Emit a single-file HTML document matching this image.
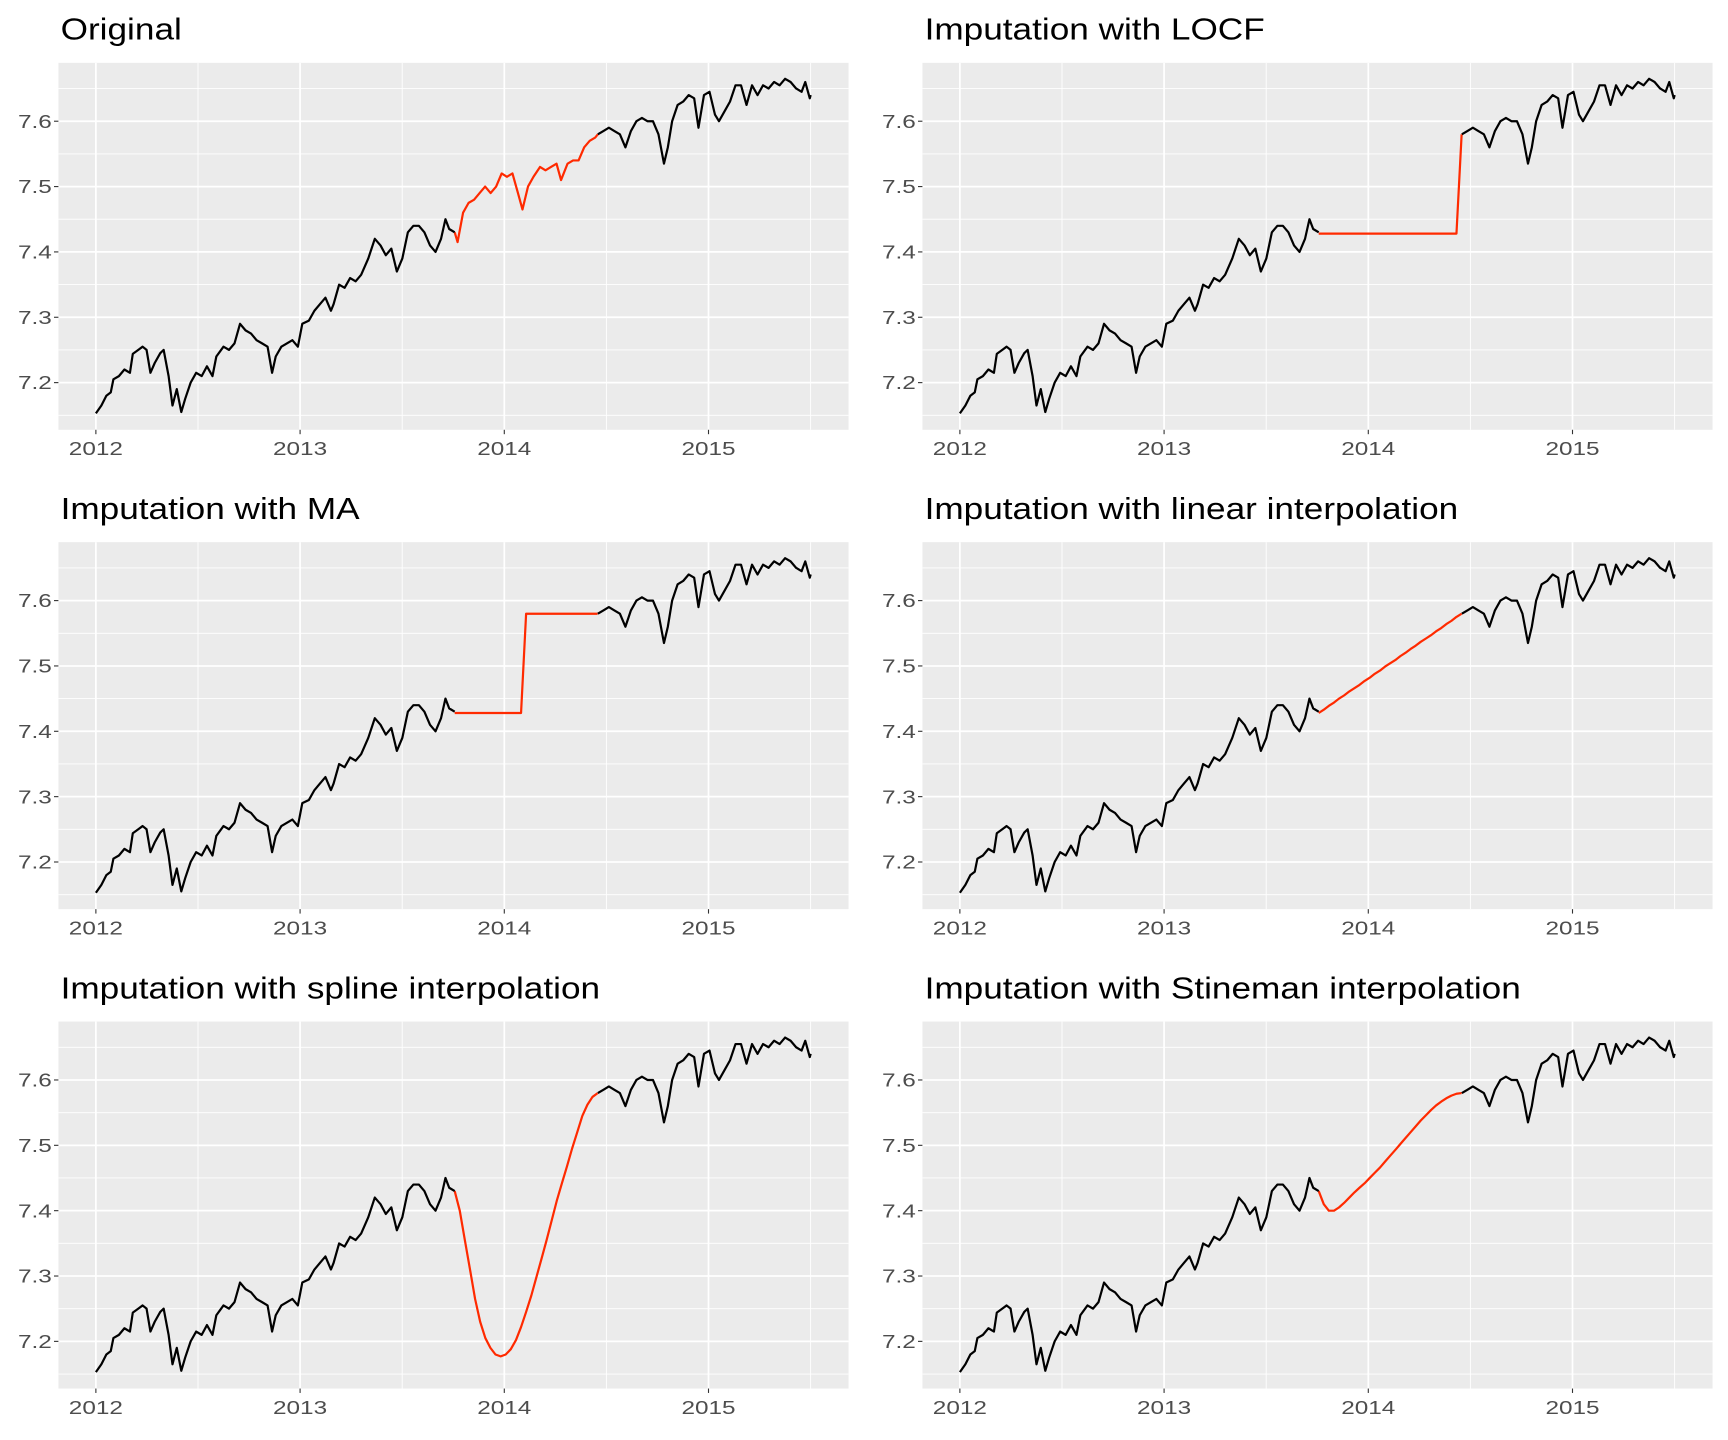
<!DOCTYPE html>
<html><head><meta charset="utf-8">
<style>
html,body{margin:0;padding:0;background:#fff;}
svg{display:block;}
text{font-family:"Liberation Sans",Arial,sans-serif;}
</style></head>
<body>
<svg id="chart" width="1728" height="1440" viewBox="0 0 1568 1306.7" preserveAspectRatio="none" xmlns="http://www.w3.org/2000/svg"></svg>
<script>
// ---- data (t = years since 2012) ----
const obsBeforeT = [0,.027,.051,.073,.086,.113,.140,.167,.181,.208,.229,.248,.267,.288,.315,.332,.356,.375,.396,.418,.437,.464,.491,.518,.544,.571,.590,.625,.652,.679,.706,.733,.760,.787,.814,.841,.863,.881,.908,.935,.962,.989,1.011,1.043,1.070,1.097,1.124,1.151,1.164,1.191,1.218,1.245,1.272,1.299,1.334,1.366,1.394,1.420,1.447,1.474,1.501,1.528,1.555,1.582,1.609,1.636,1.663,1.690,1.712,1.730,1.757];
const obsBeforeV = [7.153,7.165,7.18,7.185,7.205,7.21,7.22,7.215,7.244,7.25,7.255,7.25,7.215,7.23,7.245,7.25,7.21,7.165,7.19,7.155,7.175,7.2,7.215,7.21,7.225,7.21,7.24,7.255,7.25,7.26,7.29,7.28,7.275,7.265,7.26,7.255,7.215,7.24,7.255,7.26,7.265,7.255,7.29,7.295,7.31,7.32,7.33,7.31,7.32,7.35,7.345,7.36,7.355,7.365,7.39,7.42,7.41,7.395,7.405,7.37,7.39,7.43,7.44,7.44,7.43,7.41,7.4,7.42,7.45,7.435,7.43];
const missingT = [1.757,1.771,1.798,1.825,1.852,1.879,1.906,1.933,1.960,1.987,2.013,2.040,2.067,2.089,2.116,2.143,2.175,2.202,2.229,2.256,2.278,2.310,2.337,2.364,2.391,2.418,2.445,2.458];
const missingV = [7.43,7.415,7.46,7.475,7.48,7.49,7.5,7.49,7.5,7.52,7.515,7.52,7.49,7.465,7.5,7.515,7.53,7.525,7.53,7.535,7.51,7.535,7.54,7.54,7.56,7.57,7.575,7.58];
const obsAfterT = [2.458,2.485,2.512,2.539,2.566,2.593,2.620,2.647,2.674,2.701,2.728,2.755,2.782,2.801,2.822,2.849,2.876,2.903,2.930,2.951,2.978,3.005,3.032,3.051,3.078,3.105,3.132,3.159,3.186,3.213,3.240,3.267,3.294,3.321,3.348,3.375,3.402,3.429,3.456,3.474,3.496,3.5];
const obsAfterV = [7.58,7.585,7.59,7.585,7.58,7.56,7.585,7.6,7.605,7.6,7.6,7.58,7.535,7.56,7.6,7.625,7.63,7.64,7.635,7.59,7.64,7.645,7.61,7.6,7.615,7.63,7.655,7.655,7.625,7.655,7.64,7.655,7.65,7.66,7.655,7.665,7.66,7.65,7.645,7.66,7.635,7.64];
const imputeT = [1.757,1.782,1.807,1.832,1.857,1.882,1.907,1.932,1.957,1.982,2.007,2.032,2.057,2.082,2.107,2.132,2.157,2.182,2.207,2.232,2.257,2.282,2.307,2.332,2.357,2.382,2.407,2.432,2.457];
const locfV = [7.428,7.428,7.428,7.428,7.428,7.428,7.428,7.428,7.428,7.428,7.428,7.428,7.428,7.428,7.428,7.428,7.428,7.428,7.428,7.428,7.428,7.428,7.428,7.428,7.428,7.428,7.428,7.428,7.58];
const maV = [7.428,7.428,7.428,7.428,7.428,7.428,7.428,7.428,7.428,7.428,7.428,7.428,7.428,7.428,7.58,7.58,7.58,7.58,7.58,7.58,7.58,7.58,7.58,7.58,7.58,7.58,7.58,7.58,7.58];
const linearV = [7.428,7.433,7.439,7.444,7.450,7.455,7.461,7.466,7.471,7.477,7.482,7.488,7.493,7.499,7.504,7.509,7.515,7.520,7.526,7.531,7.537,7.542,7.547,7.553,7.558,7.564,7.569,7.575,7.580];
const splineV = [7.43,7.40,7.355,7.31,7.265,7.23,7.205,7.19,7.18,7.177,7.18,7.188,7.202,7.222,7.245,7.27,7.298,7.326,7.355,7.385,7.415,7.442,7.468,7.495,7.52,7.545,7.562,7.574,7.58];
const stinemanV = [7.43,7.41,7.40,7.40,7.405,7.412,7.42,7.428,7.435,7.442,7.45,7.458,7.466,7.475,7.484,7.493,7.502,7.511,7.52,7.529,7.538,7.546,7.554,7.561,7.567,7.572,7.576,7.579,7.58];
const yearTicks = [0,1,2,3];
const yearLabels = ["2012","2013","2014","2015"];
const yTicks = [7.2,7.3,7.4,7.5,7.6];
const yLabels = ["7.2","7.3","7.4","7.5","7.6"];
const titles = ["Original","Imputation with LOCF","Imputation with MA","Imputation with linear interpolation","Imputation with spline interpolation","Imputation with Stineman interpolation"];
const imputations = [missingV, locfV, maV, linearV, splineV, stinemanV];

const NS = "http://www.w3.org/2000/svg";
const svg = document.getElementById('chart');
function mk(tag, attrs, parent){ const e=document.createElementNS(NS,tag); for(const k in attrs) e.setAttribute(k,attrs[k]); parent.appendChild(e); return e; }
function stretch(el, f){ const w = el.getComputedTextLength(); if (w>0){ el.setAttribute('textLength', (w*f).toFixed(1)); el.setAttribute('lengthAdjust','spacingAndGlyphs'); } }

const PW = 717, PH = 333;
const lefts = [53, 837], tops = [57, 492, 927];

titles.forEach((title, i) => {
  const L = lefts[i%2], T = tops[Math.floor(i/2)];
  const xs = t => L + 34 + t*185.3;
  const ys = v => T + 53 + (7.6 - v)/0.1*59.3;
  const g = mk('g', {}, svg);
  
  
  const bg = mk('rect', {x:L, y:T, width:PW, height:PH, fill:'#ebebeb'}, g);
  
  
  [0.5,1.5,2.5,3.5].forEach(t => mk('line',{x1:xs(t),x2:xs(t),y1:T,y2:T+PH,stroke:'#fff','stroke-width':0.8},g));
  [7.15,7.25,7.35,7.45,7.55,7.65].forEach(v => mk('line',{x1:L,x2:L+PW,y1:ys(v),y2:ys(v),stroke:'#fff','stroke-width':0.8},g));
  yearTicks.forEach((t, k) => {
    mk('line',{x1:xs(t),x2:xs(t),y1:T,y2:T+PH,stroke:'#fff','stroke-width':1.6},g);
    mk('line',{x1:xs(t),x2:xs(t),y1:T+PH,y2:T+PH+4,stroke:'#333','stroke-width':1},g);
    const tx = mk('text',{x:xs(t),y:T+PH+23,'text-anchor':'middle','font-size':17,fill:'#4d4d4d'},g);
    tx.textContent = yearLabels[k];
    
    
    stretch(tx, 1.3);
  });
  yTicks.forEach((v, k) => {
    mk('line',{x1:L,x2:L+PW,y1:ys(v),y2:ys(v),stroke:'#fff','stroke-width':1.6},g);
    mk('line',{x1:L-4,x2:L,y1:ys(v),y2:ys(v),stroke:'#333','stroke-width':1},g);
    const tx = mk('text',{x:L-6,y:ys(v)+6,'text-anchor':'end','font-size':17,fill:'#4d4d4d'},g);
    tx.textContent = yLabels[k];
    
    
    stretch(tx, 1.3);
  });
  const ttl = mk('text',{x:L+2,y:T-21,'font-size':28,fill:'#000'},g);
  ttl.textContent = title;
  
  
  stretch(ttl, 1.14);
  const path = (ts, vs) => ts.map((t,j)=>(j?'L':'M')+xs(t).toFixed(1)+','+ys(vs[j]).toFixed(1)).join('');
  const redT = i===0 ? missingT : imputeT;
  const red = mk('path',{d:path(redT, imputations[i]),fill:'none',stroke:'#ff2a00','stroke-width':2,'stroke-linejoin':'round'},g);
  
  
  const b1 = mk('path',{d:path(obsBeforeT, obsBeforeV),fill:'none',stroke:'#000','stroke-width':2,'stroke-linejoin':'round'},g);
  
  
  const b2 = mk('path',{d:path(obsAfterT, obsAfterV),fill:'none',stroke:'#000','stroke-width':2,'stroke-linejoin':'round'},g);
  
  
});
</script>
</body></html>
